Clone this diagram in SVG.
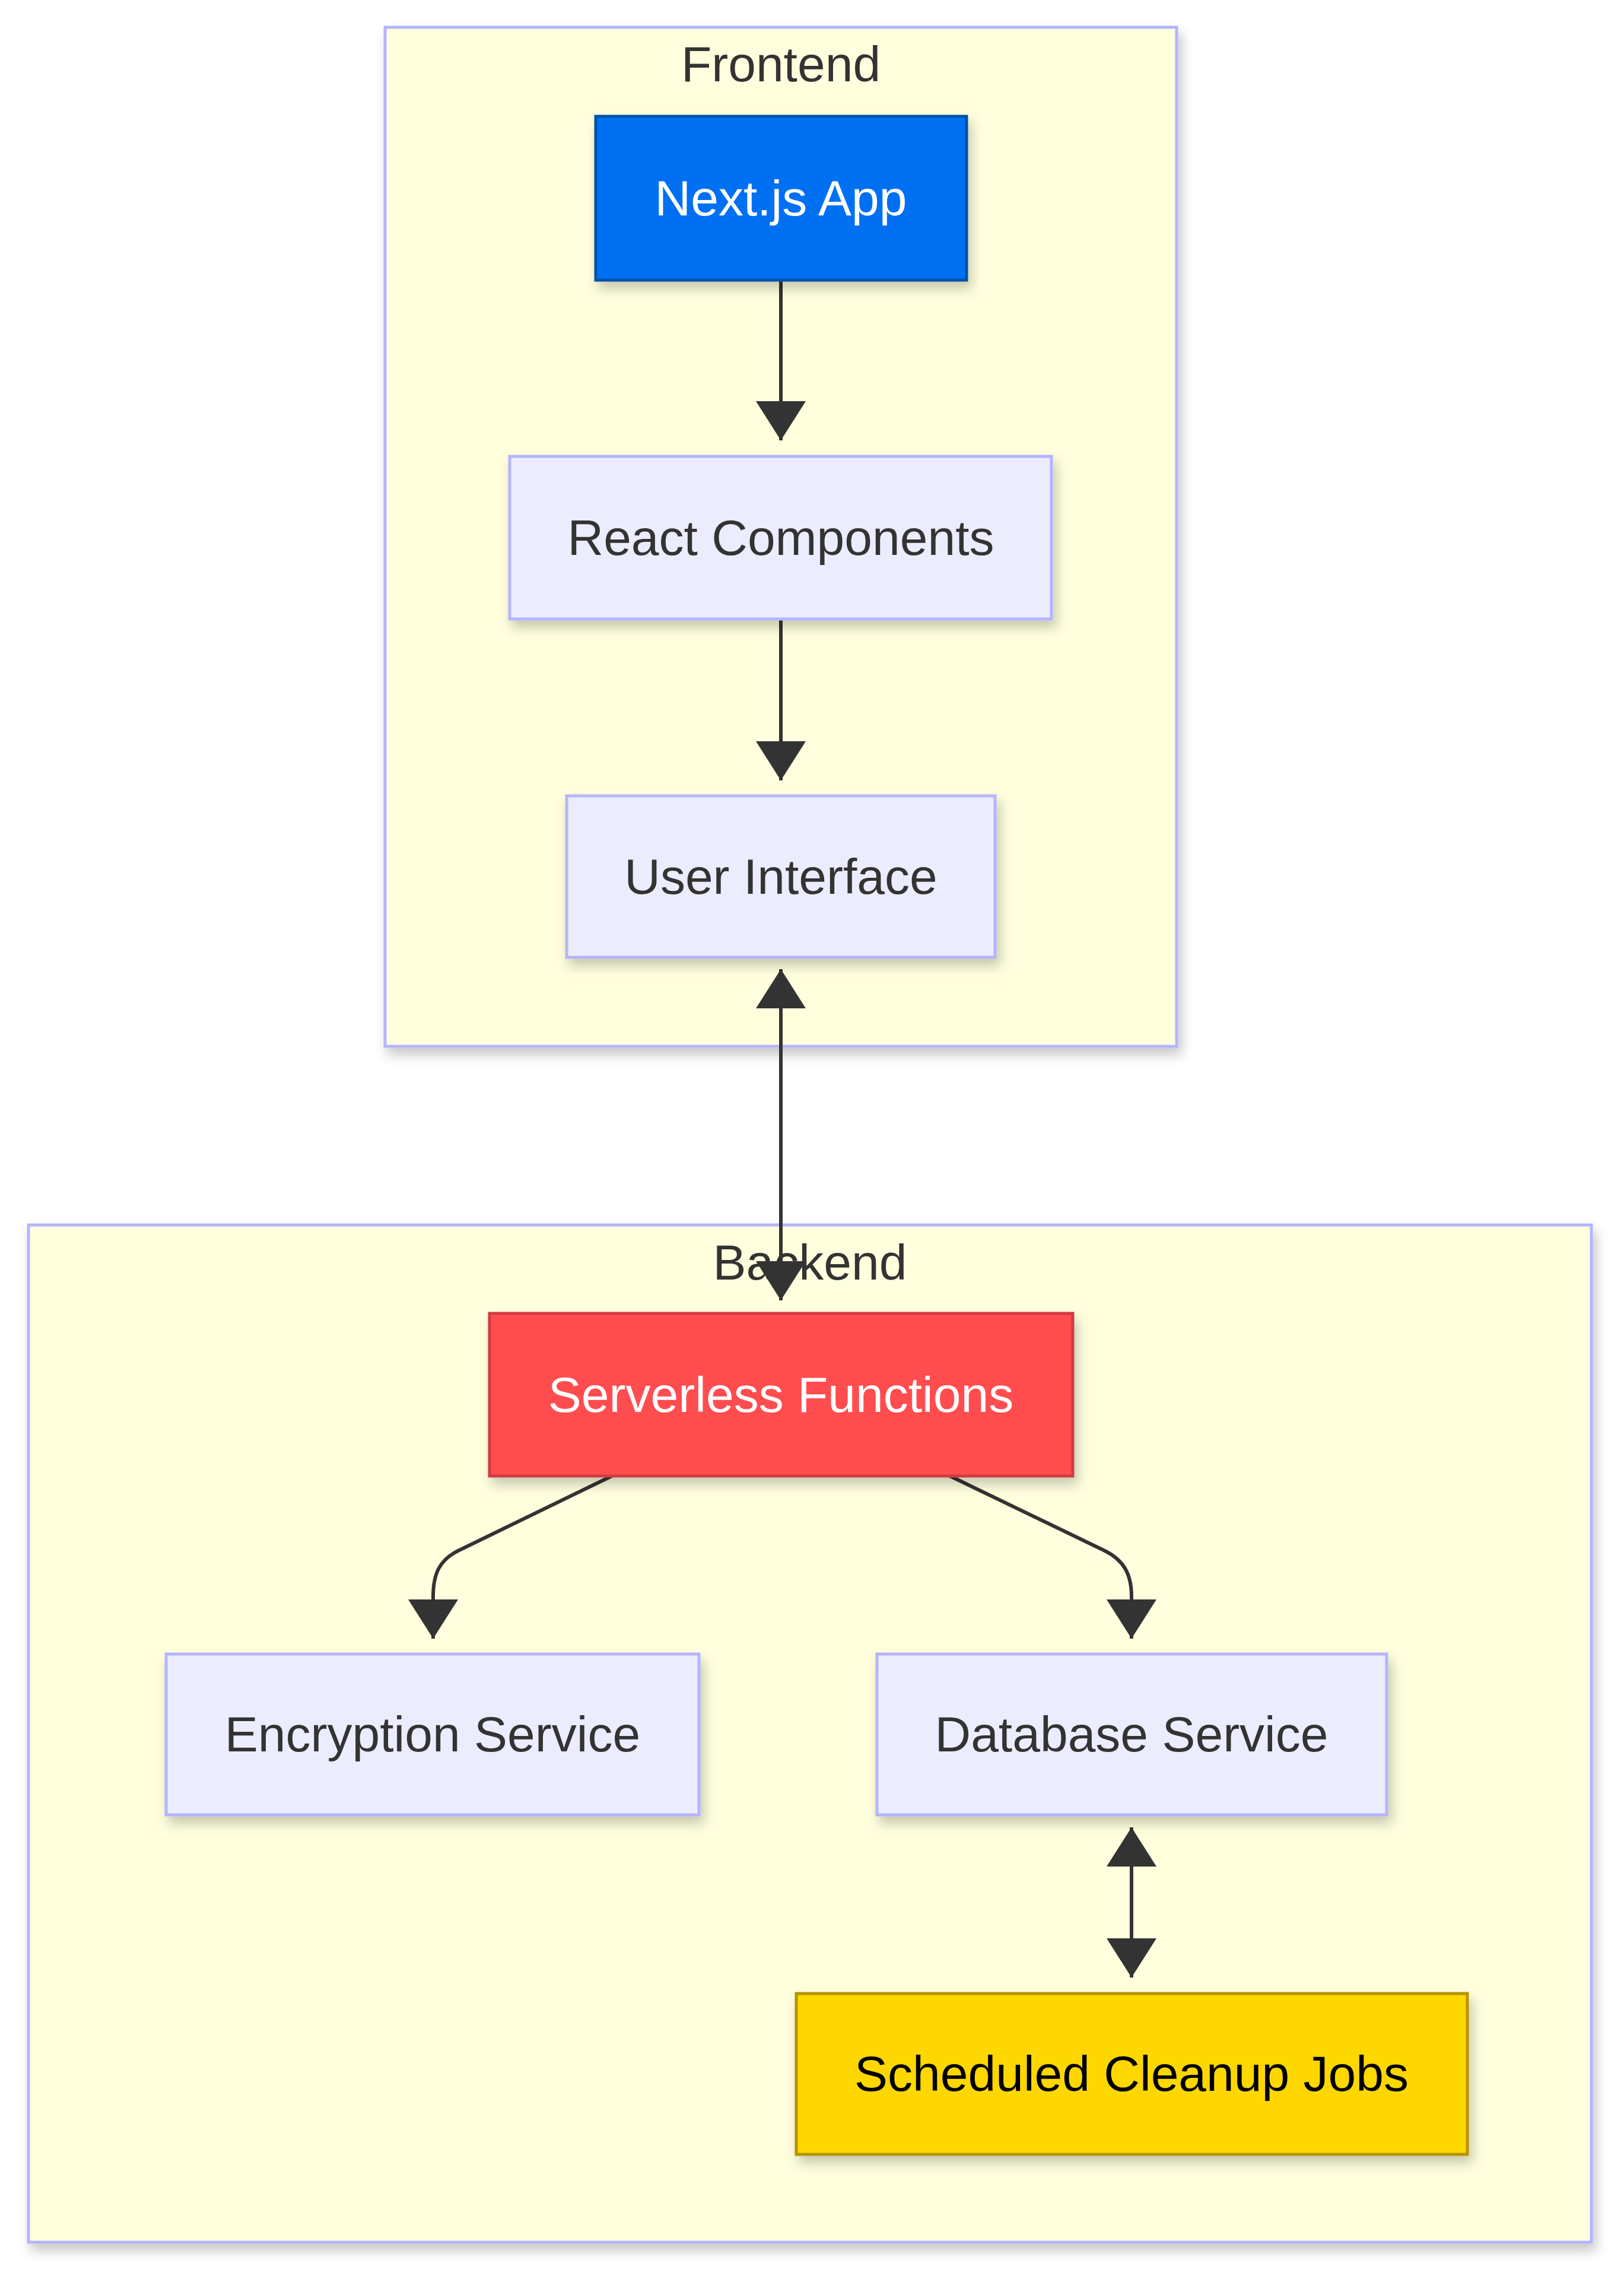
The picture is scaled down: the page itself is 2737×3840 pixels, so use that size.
<svg xmlns="http://www.w3.org/2000/svg" width="2737" height="3840" viewBox="0 0 2737 3840">
  <style>
    .cluster rect { fill: #ffffde; stroke: #b4b4ff; stroke-width: 5; }
    .cluster text { font-family: "Liberation Sans", Arial, sans-serif; font-size: 84px; fill: #333333; text-anchor: middle; }
    .node rect { fill: #ececff; stroke: #b4b4ff; stroke-width: 5; }
    .node text { font-family: "Liberation Sans", Arial, sans-serif; font-size: 84px; fill: #333333; text-anchor: middle; }
    .edge { fill: none; stroke: #333333; stroke-width: 6; }
    #nextjs rect { fill: #0070f3; stroke: #0052a8; }
    #nextjs text { fill: #ffffff; }
    #serverless rect { fill: #ff4d4f; stroke: #d13b40; }
    #serverless text { fill: #ffffff; }
    #cleanup rect { fill: #ffd700; stroke: #b39400; }
    #cleanup text { fill: #000000; }
  </style>
  <defs>
    <filter id="shadow" x="-10%" y="-10%" width="130%" height="140%">
      <feDropShadow dx="6" dy="12" stdDeviation="10" flood-color="#000000" flood-opacity="0.22"/>
    </filter>
    <marker id="arrow" viewBox="0 0 10 10" refX="10" refY="5" markerUnits="userSpaceOnUse" markerWidth="66" markerHeight="84" preserveAspectRatio="none" orient="auto-start-reverse">
      <path d="M0,0 L10,5 L0,10 z" fill="#333333"/>
    </marker>
  </defs>

  <rect width="2737" height="3840" fill="#ffffff"/>

  <!-- subgraphs -->
  <g id="frontend" class="cluster">
    <rect x="649" y="46" width="1334" height="1717" filter="url(#shadow)"/>
    <text x="1316" y="137">Frontend</text>
  </g>
  <g id="backend" class="cluster">
    <rect x="48" y="2064" width="2634" height="1714" filter="url(#shadow)"/>
    <text x="1365" y="2156">Backend</text>
  </g>

  <!-- connectors -->
  <g id="connectors">
    <path class="edge" d="M1316,472 L1316,742" marker-end="url(#arrow)"/>
    <path class="edge" d="M1316,1043 L1316,1315" marker-end="url(#arrow)"/>
    <path class="edge" d="M1316,1633 L1316,2191" marker-start="url(#arrow)" marker-end="url(#arrow)"/>
    <path class="edge" d="M1031,2487 L772,2613 C742,2628 730,2650 730,2690 L730,2761" marker-end="url(#arrow)"/>
    <path class="edge" d="M1601,2487 L1862,2613 C1892,2628 1907,2650 1907,2690 L1907,2761" marker-end="url(#arrow)"/>
    <path class="edge" d="M1907,3079 L1907,3332" marker-start="url(#arrow)" marker-end="url(#arrow)"/>
  </g>

  <!-- nodes -->
  <g id="nextjs" class="node">
    <rect x="1004" y="196" width="625" height="276" filter="url(#shadow)"/>
    <text x="1316" y="363">Next.js App</text>
  </g>
  <g id="react" class="node">
    <rect x="859" y="769" width="913" height="274" filter="url(#shadow)"/>
    <text x="1316" y="935">React Components</text>
  </g>
  <g id="ui" class="node">
    <rect x="955" y="1341" width="722" height="272" filter="url(#shadow)"/>
    <text x="1316" y="1506">User Interface</text>
  </g>
  <g id="serverless" class="node">
    <rect x="825" y="2213" width="983" height="274" filter="url(#shadow)"/>
    <text x="1316" y="2379">Serverless Functions</text>
  </g>
  <g id="encryption" class="node">
    <rect x="280" y="2787" width="898" height="271" filter="url(#shadow)"/>
    <text x="729" y="2951">Encryption Service</text>
  </g>
  <g id="database" class="node">
    <rect x="1478" y="2787" width="859" height="271" filter="url(#shadow)"/>
    <text x="1907" y="2951">Database Service</text>
  </g>
  <g id="cleanup" class="node">
    <rect x="1342" y="3359" width="1131" height="271" filter="url(#shadow)"/>
    <text x="1907" y="3523">Scheduled Cleanup Jobs</text>
  </g>
</svg>
